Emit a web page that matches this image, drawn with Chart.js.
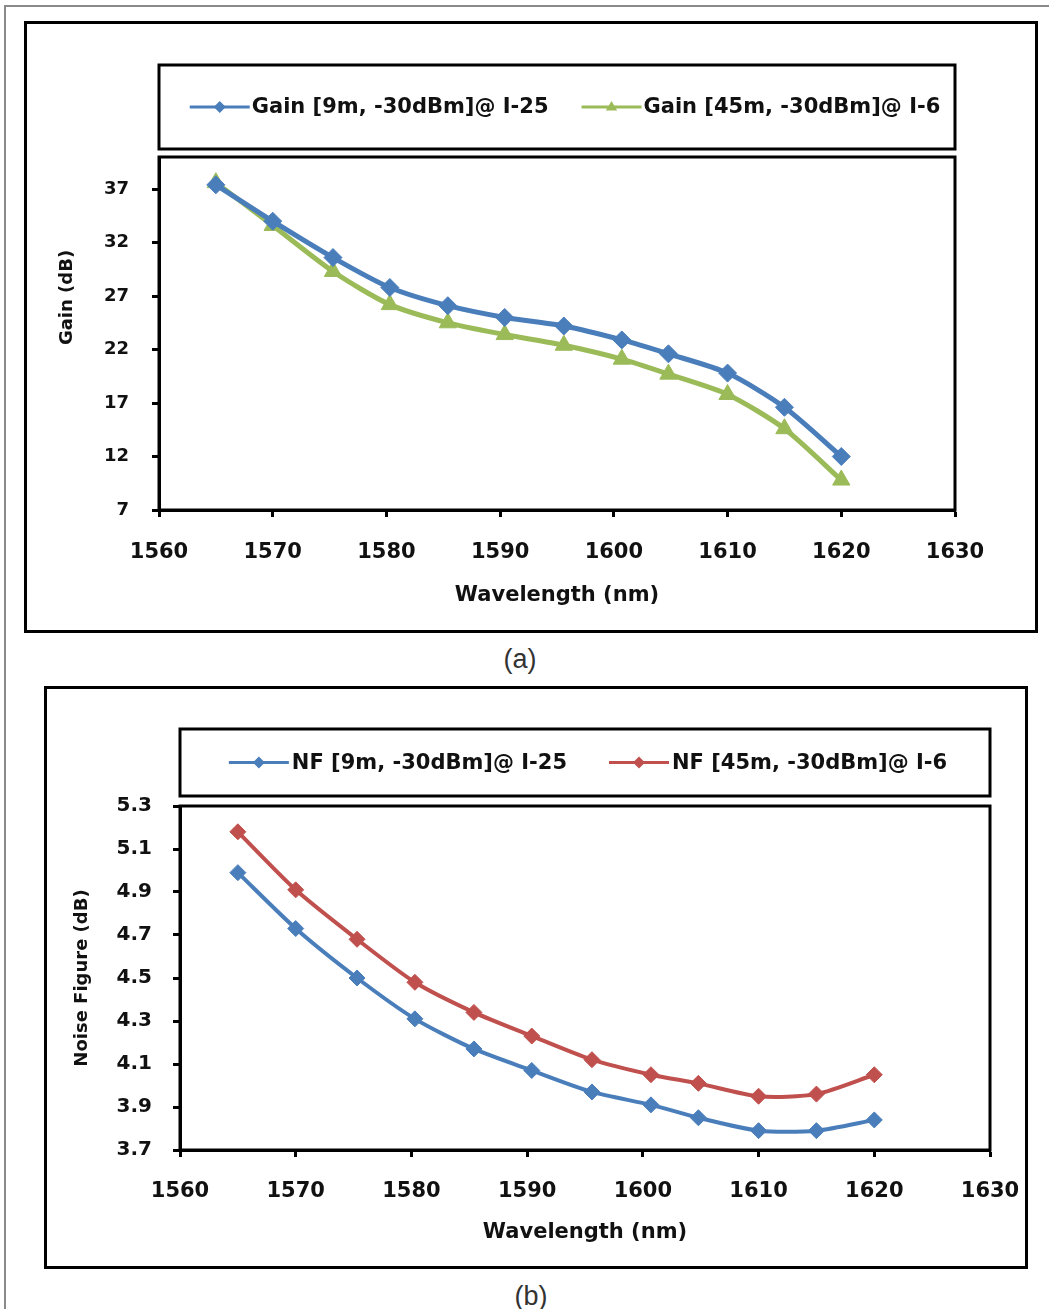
<!DOCTYPE html>
<html>
<head>
<meta charset="utf-8">
<title>Gain and Noise Figure vs Wavelength</title>
<script src="https://cdn.jsdelivr.net/npm/chart.js@4.4.1/dist/chart.umd.min.js"></script>
<style>
  html, body { margin: 0; padding: 0; background: #fff; }
  body { width: 1049px; height: 1309px; position: relative; overflow: hidden; }
  .frame { position: absolute; left: 4px; top: 5px; width: 1100px; height: 1400px;
           border-left: 2px solid #8a8a8a; border-top: 2px solid #8a8a8a; }
  .panel { position: absolute; border: 3px solid #000; background: #fff; }
  .panel canvas { display: block; }
  .caption { position: absolute; font-family: 'Liberation Sans', Arial, sans-serif; font-size: 27px;
             color: #333; transform: translate(-50%, -50%); }
</style>
</head>
<body>
<div class="frame"></div>

<div class="panel" style="left:24px; top:21px;">
  <canvas id="gainChart" width="1008" height="606"></canvas>
</div>
<div class="caption" style="left:520px; top:659px;">(a)</div>

<div class="panel" style="left:44px; top:686px;">
  <canvas id="nfChart" width="978" height="577"></canvas>
</div>
<div class="caption" style="left:531px; top:1296px;">(b)</div>

<script>
// --- DATA ---
const wavelength = [1565, 1570, 1575.3, 1580.3, 1585.4, 1590.4, 1595.6, 1600.7, 1604.8, 1610, 1615, 1620];

const gain9m  = [37.4, 34.0, 30.6, 27.8, 26.1, 25.0, 24.2, 22.9, 21.6, 19.8, 16.6, 12.0];
const gain45m = [37.6, 33.6, 29.3, 26.2, 24.5, 23.4, 22.4, 21.1, 19.7, 17.8, 14.6, 9.8];

const nf9m  = [4.99, 4.73, 4.50, 4.31, 4.17, 4.07, 3.97, 3.91, 3.85, 3.79, 3.79, 3.84];
const nf45m = [5.18, 4.91, 4.68, 4.48, 4.34, 4.23, 4.12, 4.05, 4.01, 3.95, 3.96, 4.05];

const wavelengthTicks = [1560, 1570, 1580, 1590, 1600, 1610, 1620, 1630];
const gainTicks = [7, 12, 17, 22, 27, 32, 37];
const nfTicks = [3.7, 3.9, 4.1, 4.3, 4.5, 4.7, 4.9, 5.1, 5.3];

const gainLabels = ['Gain [9m, -30dBm]@ I-25', 'Gain [45m, -30dBm]@ I-6'];
const nfLabels = ['NF [9m, -30dBm]@ I-25', 'NF [45m, -30dBm]@ I-6'];

// --- COLOURS ---
const BLUE = '#4a7ebb';
const GREEN = '#9bbb59';
const RED = '#c0504d';

Chart.defaults.font.family = "'DejaVu Sans', sans-serif";
Chart.defaults.font.weight = 'bold';
Chart.defaults.color = '#111';

const toPoints = (ys) => ys.map((y, i) => ({ x: wavelength[i], y: y }));

// --- PLUGINS ---
// box around the plot area (Excel style)
const plotBox = {
  id: 'plotBox',
  afterDraw(chart, args, opts) {
    const { ctx, chartArea: a } = chart;
    ctx.save();
    ctx.strokeStyle = '#000';
    ctx.lineWidth = opts.width || 3;
    ctx.strokeRect(a.left, a.top, a.right - a.left, a.bottom - a.top);
    ctx.restore();
  }
};

// marker shape used in the legend
function drawMarker(ctx, style, x, y, r) {
  ctx.beginPath();
  if (style === 'triangle') {
    ctx.moveTo(x, y - r);
    ctx.lineTo(x + r * 0.95, y + r * 0.6);
    ctx.lineTo(x - r * 0.95, y + r * 0.6);
  } else {
    ctx.moveTo(x, y - r);
    ctx.lineTo(x + r, y);
    ctx.lineTo(x, y + r);
    ctx.lineTo(x - r, y);
  }
  ctx.closePath();
  ctx.fill();
}

// legend inside its own framed box above the plot
const boxedLegend = {
  id: 'boxedLegend',
  afterDraw(chart, args, opts) {
    const { ctx, chartArea: a } = chart;
    ctx.save();
    ctx.strokeStyle = '#000';
    ctx.lineWidth = 3;
    ctx.strokeRect(a.left, opts.top, a.right - a.left, opts.bottom - opts.top);

    ctx.font = opts.font;
    const items = chart.data.datasets.map(ds => ({
      ds: ds,
      w: opts.lineLen + opts.textGap + ctx.measureText(ds.label).width
    }));
    const total = items.reduce((s, it) => s + it.w, 0) + opts.itemGap * (items.length - 1);
    let x = (a.left + a.right) / 2 - total / 2 + (opts.shift || 0);
    const y = (opts.top + opts.bottom) / 2;

    items.forEach(it => {
      ctx.strokeStyle = it.ds.borderColor;
      ctx.lineWidth = 3;
      ctx.beginPath();
      ctx.moveTo(x, y);
      ctx.lineTo(x + opts.lineLen, y);
      ctx.stroke();
      ctx.fillStyle = it.ds.pointBackgroundColor;
      drawMarker(ctx, it.ds.pointStyle, x + opts.lineLen / 2, y, opts.markerRadius);

      ctx.fillStyle = '#111';
      ctx.textAlign = 'left';
      ctx.textBaseline = 'middle';
      ctx.fillText(it.ds.label, x + opts.lineLen + opts.textGap, y + 1);
      x += it.w + opts.itemGap;
    });
    ctx.restore();
  }
};

// rotated y-axis title (Excel places it freely, not always centred)
const sideTitle = {
  id: 'sideTitle',
  afterDraw(chart, args, opts) {
    const { ctx, chartArea: a } = chart;
    ctx.save();
    ctx.translate(opts.x, (a.top + a.bottom) / 2 + (opts.shift || 0));
    ctx.rotate(-Math.PI / 2);
    ctx.font = opts.font;
    ctx.fillStyle = '#111';
    ctx.textAlign = 'center';
    ctx.textBaseline = 'middle';
    ctx.fillText(opts.text, 0, 0);
    ctx.restore();
  }
};

// --- CHART BUILDER ---
function buildChart(canvasId, cfg) {
  const ctx = document.getElementById(canvasId).getContext('2d');
  const W = ctx.canvas.width, H = ctx.canvas.height;
  const area = cfg.area;

  return new Chart(ctx, {
    type: 'line',
    data: { datasets: cfg.datasets },
    options: {
      responsive: false,
      animation: false,
      devicePixelRatio: 1,
      layout: { padding: { top: area.top, right: W - area.right, bottom: 0, left: 0 } },
      scales: {
        x: {
          type: 'linear',
          min: 1560,
          max: 1630,
          afterBuildTicks: s => { s.ticks = wavelengthTicks.map(v => ({ value: v })); },
          // fixed height, and no extra margin for the end labels (they fit in the padding)
          afterFit: s => { s.height = H - area.bottom; s.paddingLeft = 0; s.paddingRight = 0; },
          ticks: { font: { size: 21 }, padding: cfg.xTickPad, maxRotation: 0, autoSkip: false,
                   callback: v => String(v) },
          grid: { display: true, drawOnChartArea: false, drawTicks: true, tickLength: 7,
                  tickWidth: 3, tickColor: '#000' },
          border: { display: true, color: '#000', width: 3 },
          title: { display: true, text: 'Wavelength (nm)', font: { size: 21 },
                   padding: { top: 0, bottom: cfg.xTitlePad }, color: '#111' }
        },
        y: {
          type: 'linear',
          min: cfg.yMin,
          max: cfg.yMax,
          afterBuildTicks: s => { s.ticks = cfg.yTicks.map(v => ({ value: v })); },
          afterFit: s => { s.width = area.left; s.paddingTop = 0; s.paddingBottom = 0; },
          ticks: { font: { size: cfg.yTickSize }, padding: cfg.yTickPad, autoSkip: false,
                   callback: cfg.yFormat },
          grid: { display: true, drawOnChartArea: false, drawTicks: true, tickLength: 7,
                  tickWidth: 3, tickColor: '#000' },
          border: { display: true, color: '#000', width: 3 }
        }
      },
      plugins: {
        legend: { display: false },
        tooltip: { enabled: false },
        plotBox: { width: 3 },
        boxedLegend: cfg.legend,
        sideTitle: cfg.yTitle
      }
    },
    plugins: [plotBox, boxedLegend, sideTitle]
  });
}

function series(label, values, color, style, radius, width) {
  return {
    label: label,
    data: toPoints(values),
    borderColor: color,
    backgroundColor: color,
    borderWidth: width,
    pointStyle: style,
    pointRadius: radius,
    pointBackgroundColor: color,
    pointBorderColor: color,
    pointBorderWidth: 1,
    tension: 0.25,
    fill: false
  };
}

// --- (a) GAIN ---
buildChart('gainChart', {
  area: { left: 132, top: 133, right: 928, bottom: 486 },
  yMin: 7, yMax: 40, yTicks: gainTicks, yTickSize: 18, yTickPad: 23,
  yFormat: v => String(v),
  xTickPad: 23, xTitlePad: 22,
  datasets: [
    series(gainLabels[0], gain9m, BLUE, 'rectRot', 9, 5),
    series(gainLabels[1], gain45m, GREEN, 'triangle', 10, 5)
  ],
  legend: { top: 41, bottom: 125, font: "bold 21px 'DejaVu Sans'", lineLen: 60, textGap: 2,
            itemGap: 33, shift: 8, markerRadius: 6 },
  yTitle: { text: 'Gain (dB)', x: 40, shift: -36, font: "bold 18px 'DejaVu Sans'" }
});

// --- (b) NOISE FIGURE ---
buildChart('nfChart', {
  area: { left: 133, top: 117, right: 943, bottom: 461 },
  yMin: 3.7, yMax: 5.3, yTicks: nfTicks, yTickSize: 20, yTickPad: 21,
  yFormat: v => v.toFixed(1),
  xTickPad: 22, xTitlePad: 21,
  datasets: [
    series(nfLabels[0], nf9m, BLUE, 'rectRot', 8, 4),
    series(nfLabels[1], nf45m, RED, 'rectRot', 8, 4)
  ],
  legend: { top: 40, bottom: 107, font: "bold 21px 'DejaVu Sans'", lineLen: 60, textGap: 3,
            itemGap: 42, shift: 3, markerRadius: 6 },
  yTitle: { text: 'Noise Figure (dB)', x: 35, shift: 0, font: "bold 18px 'DejaVu Sans'" }
});
</script>
</body>
</html>
